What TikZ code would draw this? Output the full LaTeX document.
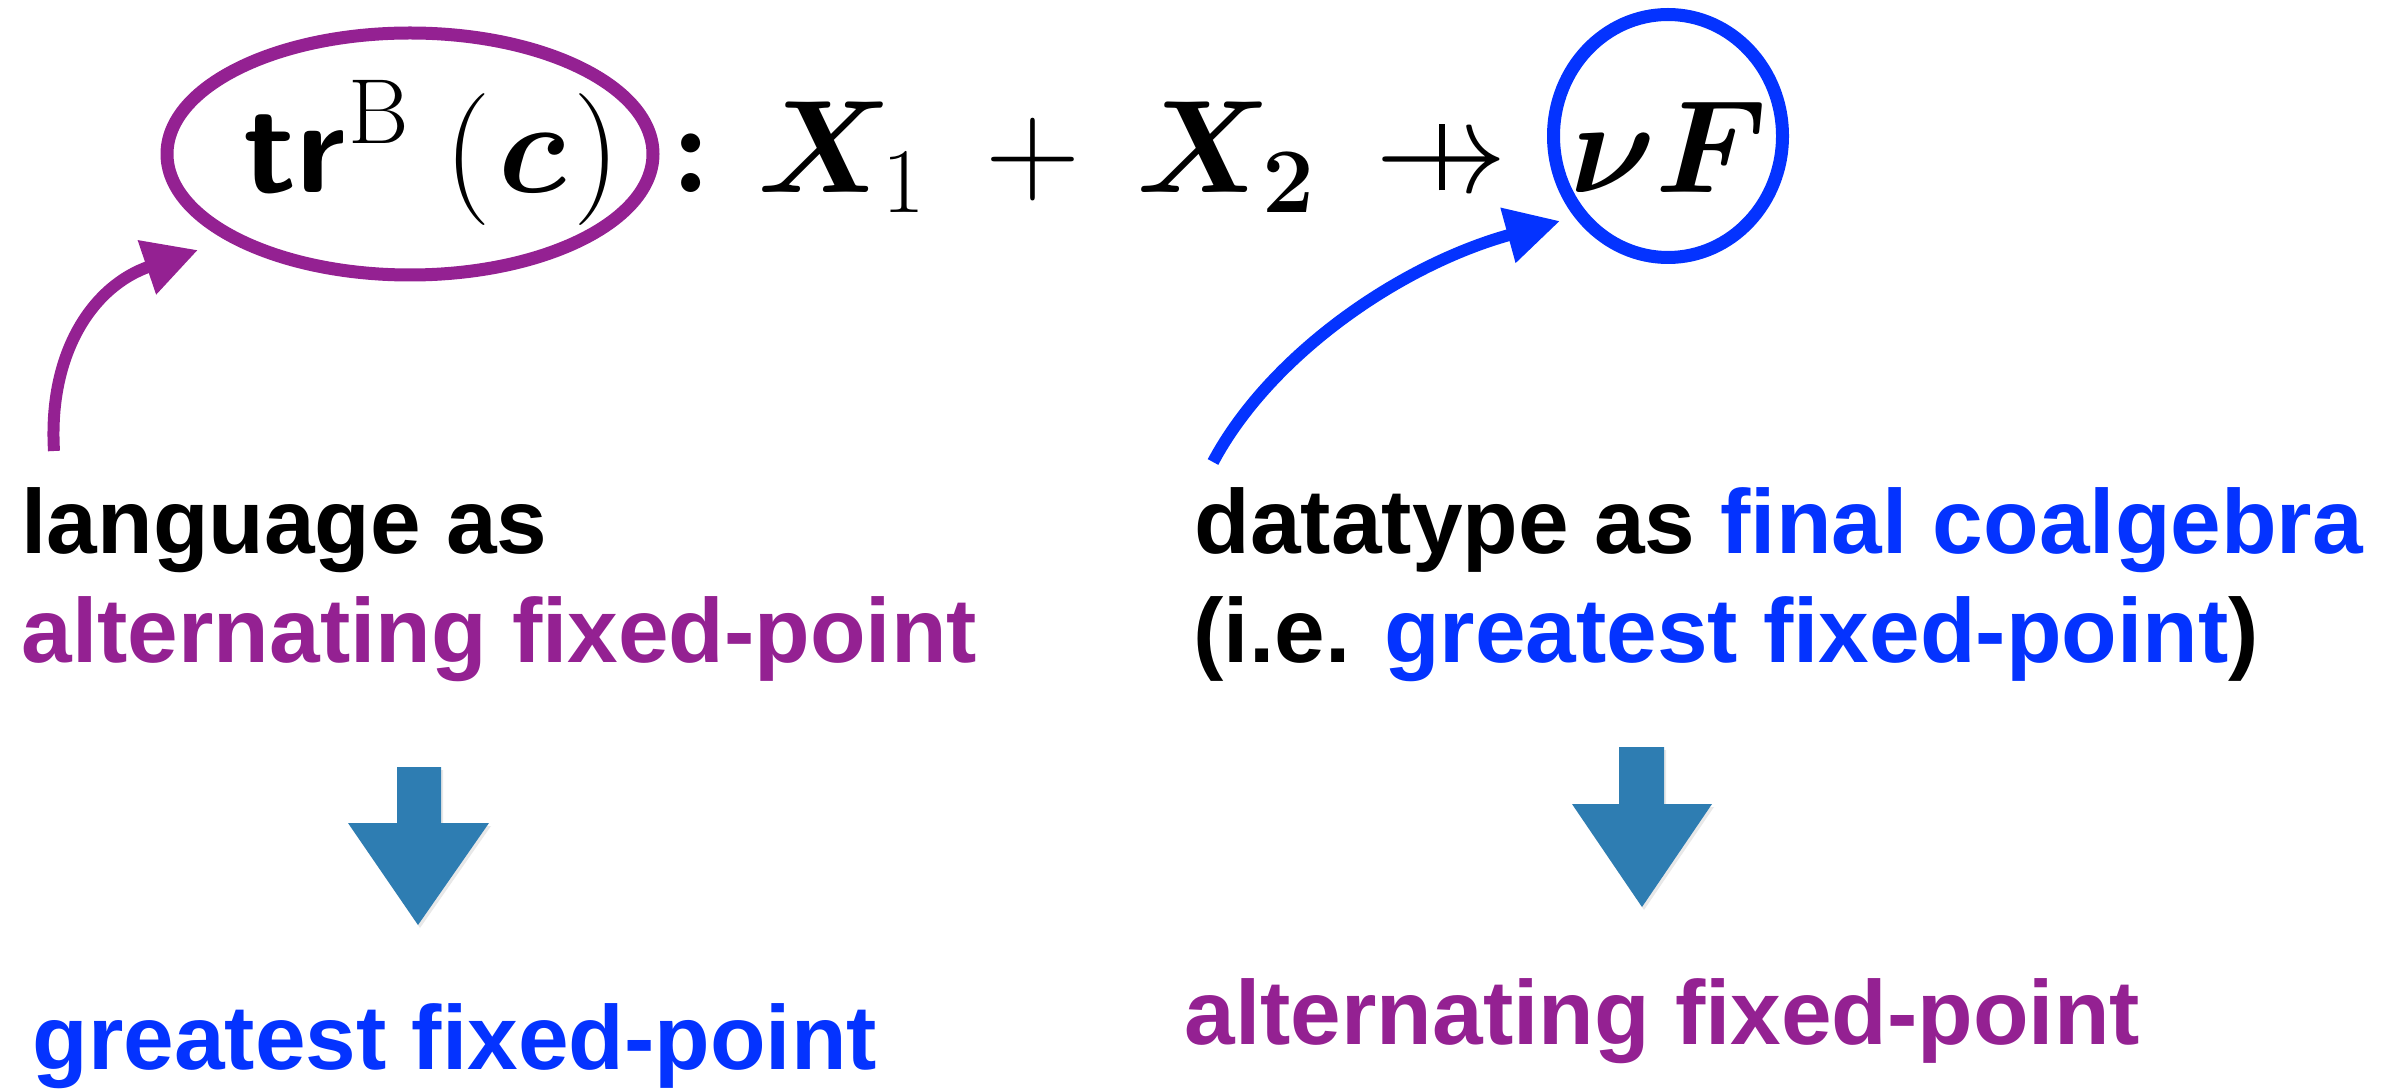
\RequirePackage{fix-cm}
\documentclass[tikz,border=0pt]{standalone}
\usepackage{graphicx}
\usepackage{amsmath,amssymb,bm}
\usepackage[no-math]{fontspec}
\newfontfamily\hv{Liberation Sans}
\usetikzlibrary{arrows.meta,shapes.geometric,shadows}
\DeclareMathSizes{39.6}{39.6}{27.72}{19.8}
\definecolor{plum}{HTML}{942192}
\definecolor{kblue}{HTML}{0433FF}
\definecolor{steel}{HTML}{2E7DB2}
\newcommand{\pfunarrow}{\mathrel{\ooalign{$\rightarrow$\cr\hidewidth\rule[0.02em]{0.045em}{0.5em}\hidewidth\cr}}}
\newcommand{\smallglyph}[1]{\scalebox{0.7}{#1}}
\tikzset{
  lbl/.style={inner sep=0pt, anchor=base west, font=\hv\bfseries\fontsize{27.3}{32}\selectfont},
  mth/.style={inner sep=0pt, anchor=base west, font=\fontfamily{cmr}\fontsize{39.6}{48}\selectfont},
  ring/.style={ellipse, line width=3.9pt, inner sep=0pt},
  curvearrow/.style={line width=3.6pt, -{Triangle[length=16.2pt,width=16.2pt]}},
  bigdown/.style={fill=steel, drop shadow={opacity=0.18, shadow xshift=0.6pt, shadow yshift=-0.9pt}}
}
\begin{document}
\begin{tikzpicture}[x=0.3pt,y=-0.3pt]
\useasboundingbox (0,0) rectangle (2389,1090);
% formula  tr^B(c) : X_1 + X_2 -+> nu F
\node[mth] (ftr) at (243,193) {\textsf{\bfseries tr}};
\node[mth] (fsup) at (348,144) {\smallglyph{$\mathrm{B}$}};
\node[mth] (farg) at (444,193) {$(\mkern1mu\bm{c}\mkern1mu)$};
\node[mth] (fcolon) at (670,193) {$\bm{:}$};
\node[mth] (fxa) at (757,193) {$\bm{X}$};
\node[mth] (fsuba) at (882,213) {\smallglyph{$1$}};
\node[mth] (fplus) at (985,193) {$+$};
\node[mth] (fxb) at (1136,193) {$\bm{X}$};
\node[mth] (fsubb) at (1262,213) {\smallglyph{$\bm{2}$}};
\node[mth] (farrow) at (1375,193) {$\pfunarrow$};
\node[mth] (fnuf) at (1570,193) {$\bm{\nu}\bm{F}$};
% rings
\node[ring, draw=plum, minimum width=145.8pt, minimum height=72.6pt] (trc) at (410,154) {};
\node[ring, draw=kblue, minimum width=68.7pt, minimum height=72.9pt] (nuf) at (1668,136) {};
% labels
\node[lbl] (lang1) at (21,553) {language as};
\node[lbl, text=plum] (lang2) at (21,663) {alternating fixed-point};
\node[lbl] (dt1) at (1194,553) {datatype as \textcolor{kblue}{final coalgebra}};
\node[lbl] (dt2) at (1193,663) {(i.e. \textcolor{kblue}{greatest fixed-point})};
\node[lbl, text=kblue] (res1) at (32,1069) {greatest fixed-point};
\node[lbl, text=plum] (res2) at (1184,1044) {alternating fixed-point};
% curved arrows
\coordinate (lstart) at (54,451);
\coordinate (ltip) at (198,250);
\coordinate (dstart) at (1213,462);
\coordinate (dtip) at (1560,221);
\draw[curvearrow, plum] (lstart) .. controls (48,350) and (95,285) .. (ltip);
\draw[curvearrow, kblue] (dstart) .. controls (1270,355) and (1400,265) .. (dtip);
% big down arrows
\path[bigdown] (397,767) -- (441,767) -- (441,823) -- (489,823) -- (418,925) -- (348,823) -- (397,823) -- cycle;
\path[bigdown] (1619,747) -- (1664,747) -- (1664,804) -- (1712,804) -- (1642,907) -- (1572,804) -- (1619,804) -- cycle;
\end{tikzpicture}
\end{document}
